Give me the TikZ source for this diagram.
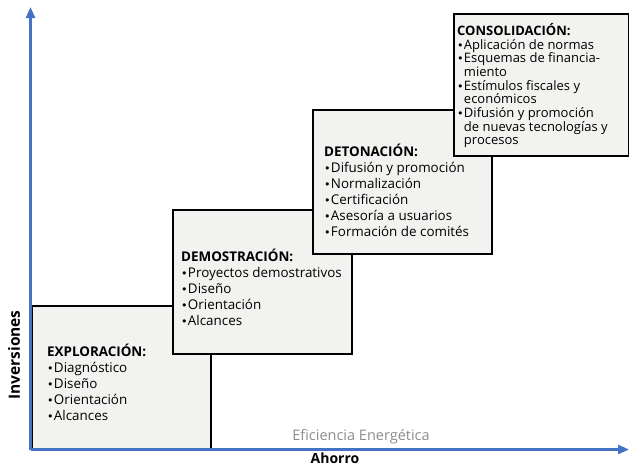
\documentclass[tikz,border=0pt]{standalone}
\usepackage{fontspec}
\setmainfont{Open Sans}
\newfontfamily\bulfont{DejaVu Sans}
\usetikzlibrary{arrows.meta,positioning}
\definecolor{stagefill}{HTML}{F2F2F0}
\definecolor{axisblue}{HTML}{4472C4}
\definecolor{labelgray}{HTML}{8C8C8C}
\newcommand{\bul}{{\bulfont\fontsize{11}{0}\selectfont •}\kern0.3pt}
\newcommand{\bulgap}{\hphantom{\bul}}

\begin{document}
\begin{tikzpicture}[x=1pt, y=-1pt,
  stage/.style={draw, line width=2.2pt, fill=stagefill, anchor=north west, inner sep=0pt, minimum width=179pt, minimum height=144pt},
  items/.style={anchor=north west, align=left, inner sep=0pt, font=\fontsize{13.4}{16}\selectfont},
  axis/.style={draw=axisblue, line width=2.4pt, -{Triangle[width=9pt, length=11pt]}},
  axlabel/.style={font=\fontsize{15.5}{17}\selectfont\bfseries}
]
\useasboundingbox (0,0) rectangle (629,466);

% etapas
\node[stage] (explo) at (31,305) {};
\node[stage] (demo) at (172,209) {};
\node[stage] (deto) at (312,109) {};
\node[stage, minimum width=175pt, minimum height=142pt] (conso) at (453,13) {};

\node[items] (explotext) at (47,344) {\textbf{EXPLORACIÓN:}\\
  \bul Diagnóstico\\ \bul Diseño\\ \bul Orientación\\ \bul Alcances};
\node[items] (demotext) at (181,249) {\textbf{DEMOSTRACIÓN:}\\
  \bul Proyectos demostrativos\\ \bul Diseño\\ \bul Orientación\\ \bul Alcances};
\node[items] (detotext) at (324,144) {\textbf{DETONACIÓN:}\\
  \bul Difusión y promoción\\ \bul Normalización\\ \bul Certificación\\
  \bul Asesoría a usuarios\\ \bul Formación de comités};
\node[items, font=\fontsize{13}{13.7}\selectfont] (consotext) at (457,23) {\textbf{CONSOLIDACIÓN:}\\
  \bul Aplicación de normas\\ \bul Esquemas de financia-\\ \bulgap miento\\
  \bul Estímulos fiscales y\\ \bulgap económicos\\ \bul Difusión y promoción\\
  \bulgap de nuevas tecnologías y\\ \bulgap procesos};

% ejes
\coordinate (origin) at (30.5,449.5);
\coordinate (ytip) at (30.5,7);
\coordinate (xtip) at (629,449.5);
\draw[axis] (origin) -- (ytip);
\draw[axis] (origin) -- (xtip);

\node[axlabel, rotate=90] (inv) at (14,355) {Inversiones};
\node[axlabel, font=\fontsize{14}{16}\selectfont\bfseries] (aho) at (335,458) {Ahorro};
\node[font=\fontsize{14.5}{16}\selectfont, text=labelgray] (efi) at (361,437) {Eficiencia Energética};
\end{tikzpicture}
\end{document}
